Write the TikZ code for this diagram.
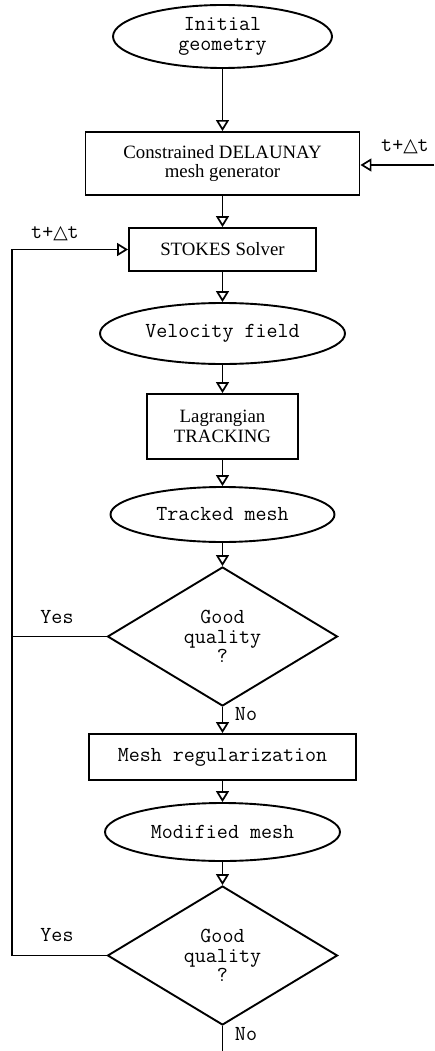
\documentclass[tikz,border=0pt]{standalone}
\usepackage{fontspec}
\setmainfont{Liberation Serif}
\newfontfamily\dejavu{DejaVu Sans}
\usetikzlibrary{shapes.geometric,arrows.meta}
\newcommand\monofnt{\ttfamily\fontsize{21.4}{19.3}\selectfont}
\begin{document}
\begin{tikzpicture}[x=1pt,y=-1pt,
  base/.style={draw, line width=1.9pt, inner sep=0pt, align=center, font=\fontsize{18.8}{19.3}\selectfont},
  term/.style={base, ellipse, font=\monofnt},
  proc/.style={base, rectangle},
  monoproc/.style={proc, font=\monofnt},
  decision/.style={base, diamond, aspect=1.65, minimum width=230pt, minimum height=139pt, font=\monofnt},
  lbl/.style={inner sep=0pt, font=\monofnt},
  conn/.style={line width=1.9pt},
  arr/.style={conn, -{Triangle[open, length=11pt, width=13pt, line width=1.7pt]}}
]
\useasboundingbox (0,0) rectangle (434,1051);

\node[term, minimum width=219pt, minimum height=63pt] (init) at (222.5,36.5) {Initial\\geometry};
\node[proc, minimum width=274pt, minimum height=63pt] (del) at (222.5,163.5) {Constrained DELAUNAY\\mesh generator};
\node[proc, minimum width=187pt, minimum height=43pt] (stokes) at (222.5,249.5) {STOKES Solver};
\node[term, minimum width=245pt, minimum height=61pt] (vel) at (222.5,333.5) {Velocity field};
\node[proc, minimum width=151pt, minimum height=65pt] (lag) at (222.5,426.5) {Lagrangian\\TRACKING};
\node[term, minimum width=224pt, minimum height=55pt] (track) at (222.5,514.5) {Tracked mesh};
\node[decision] (q1) at (222.5,636.5) {Good\\quality\\?};
\node[monoproc, minimum width=267pt, minimum height=46pt] (reg) at (222.5,757) {Mesh regularization};
\node[term, minimum width=235pt, minimum height=58pt] (mod) at (222.5,832) {Modified mesh};
\node[decision] (q2) at (222.5,955.5) {Good\\quality\\?};

\coordinate (rin) at (434,165);
\coordinate (lt) at (12,249.5);
\coordinate (lb) at (12,955.5);
\coordinate (bot) at (222.5,1051);

\node[lbl] (tr) at (405,147) {t+{\dejavu\fontsize{18.8}{19.3}\selectfont △}t};
\node[lbl] (tl) at (55,234) {t+{\dejavu\fontsize{18.8}{19.3}\selectfont △}t};
\node[lbl] (yes1) at (57,617) {Yes};
\node[lbl] (yes2) at (57,935) {Yes};
\node[lbl] (no1) at (246,714) {No};
\node[lbl] (no2) at (246,1034) {No};

\draw[arr] (init) -- (del);
\draw[arr] (rin) -- (del.east |- rin);
\draw[arr] (del) -- (stokes);
\draw[arr] (stokes) -- (vel);
\draw[arr] (vel) -- (lag);
\draw[arr] (lag) -- (track);
\draw[arr] (track) -- (q1);
\draw[arr] (q1) -- (reg);
\draw[arr] (reg) -- (mod);
\draw[arr] (mod) -- (q2);
\draw[conn] (q1.west) -- (q1.west -| lt);
\draw[arr] (q2.west) -- (lb) -- (lt) -- (stokes.west);
\draw[conn] (q2.south) -- (bot);
\end{tikzpicture}
\end{document}
